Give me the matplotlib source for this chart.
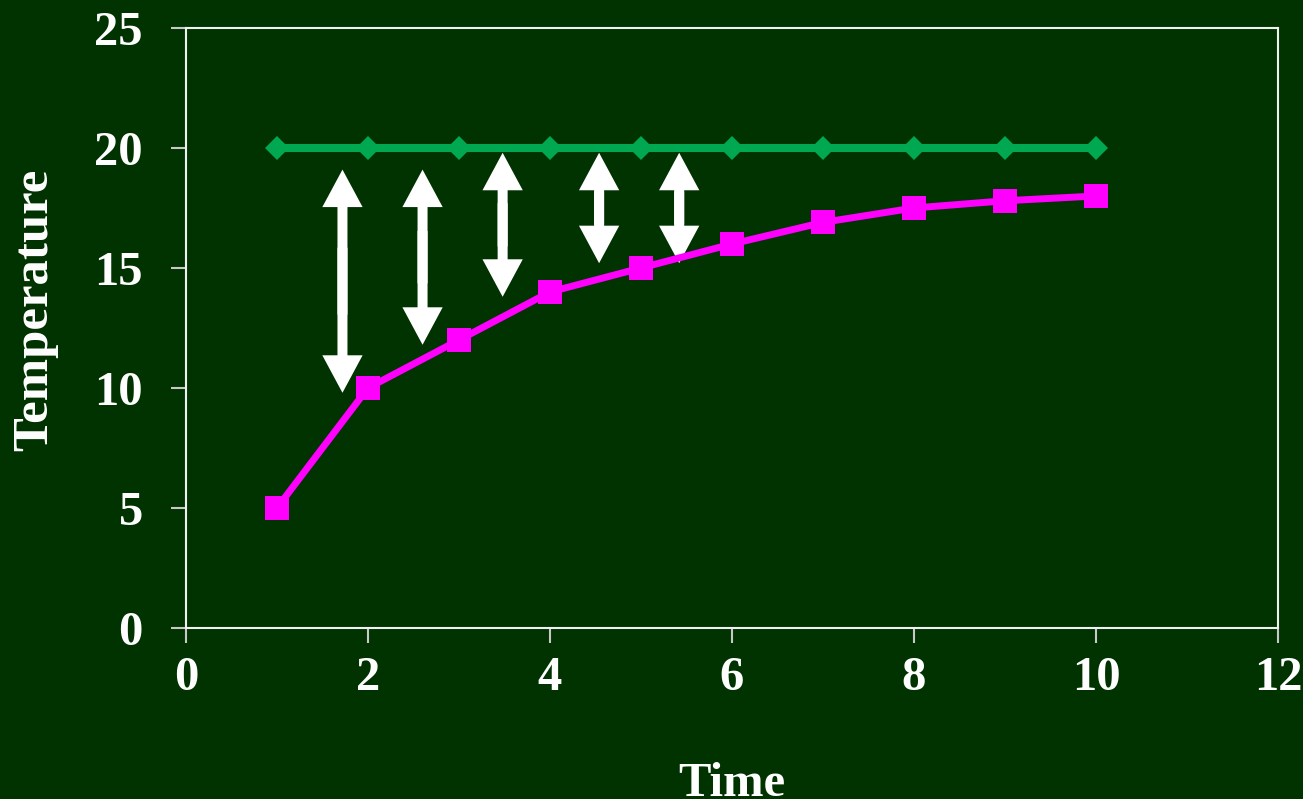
import matplotlib
matplotlib.use('Agg')
import matplotlib.pyplot as plt

# Series values
time = [1, 2, 3, 4, 5, 6, 7, 8, 9, 10]
surroundings = [20, 20, 20, 20, 20, 20, 20, 20, 20, 20]
object_temp = [5, 10, 12, 14, 15, 16, 16.9, 17.5, 17.8, 18]

# Double-headed arrows showing the temperature gap
arrow_x = [1.72, 2.60, 3.48, 4.54, 5.42]
arrow_top = [19.1, 19.1, 19.8, 19.8, 19.8]
arrow_bottom = [9.8, 11.8, 13.8, 15.2, 15.2]

x_ticks = [0, 2, 4, 6, 8, 10, 12]
y_ticks = [0, 5, 10, 15, 20, 25]

bg = '#003300'
text_color = 'white'
font = {'family': 'Liberation Serif', 'weight': 'bold', 'size': 35}

fig = plt.figure(figsize=(13.03, 7.99), dpi=100)
fig.patch.set_facecolor(bg)
ax = fig.add_subplot(111)
fig.subplots_adjust(left=0.1427, right=0.9808, top=0.965, bottom=0.214)
ax.set_facecolor(bg)

ax.plot(time, surroundings, '-D', color='#00A851', linewidth=5.8,
        markersize=12, markeredgewidth=0, zorder=4)
ax.plot(time, object_temp, '-s', color='#FF00FF', linewidth=5,
        markersize=17, markeredgewidth=0, zorder=5)

# Each arrow is two single heads; the shafts overlap so no seam shows
arrow_props = dict(width=7.2, headwidth=29, headlength=27,
                   facecolor='white', edgecolor='none', shrink=0)
for x, top, bottom in zip(arrow_x, arrow_top, arrow_bottom):
    span = top - bottom
    ax.annotate('', xy=(x, top), xytext=(x, bottom + 0.35 * span),
                arrowprops=arrow_props, zorder=3)
    ax.annotate('', xy=(x, bottom), xytext=(x, top - 0.35 * span),
                arrowprops=arrow_props, zorder=3)

ax.set_xlim(0, 12)
ax.set_ylim(0, 25)
ax.set_xticks(x_ticks)
ax.set_yticks(y_ticks)
ax.set_xticklabels([str(t) for t in x_ticks], fontdict=font, color=text_color)
ax.set_yticklabels([str(t) for t in y_ticks], fontdict=font, color=text_color)

ax.tick_params(axis='both', direction='out', length=11, width=1.5, color='#C8C8C8')
ax.tick_params(axis='x', pad=9)
ax.tick_params(axis='y', pad=20)

for spine in ax.spines.values():
    spine.set_color('#F0F0F0')
    spine.set_linewidth(1.5)

ax.set_xlabel('Time', fontdict=font, color=text_color, labelpad=45)
ax.set_ylabel('Temperature', fontdict=dict(font, size=36.5), color=text_color)
ax.yaxis.set_label_coords(-0.1165, 0.53)

fig.savefig('out.png', dpi=100, facecolor=fig.get_facecolor())
